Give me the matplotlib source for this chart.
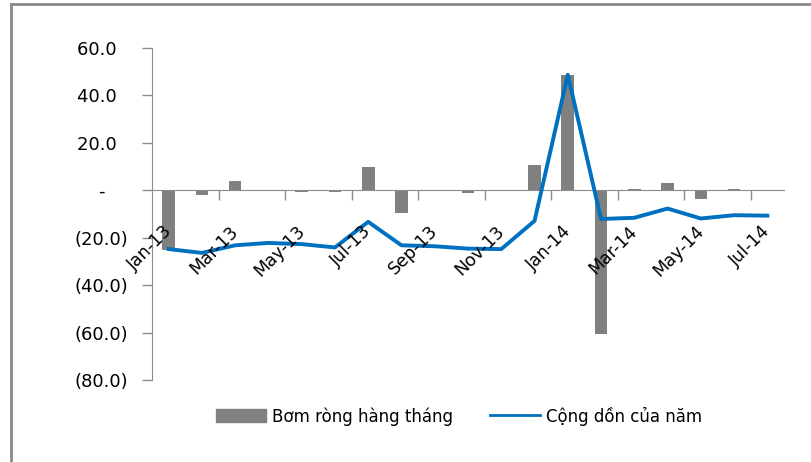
import matplotlib.pyplot as plt
from matplotlib.lines import Line2D
from matplotlib.patches import Patch
from matplotlib.transforms import ScaledTranslation

months = ["Jan-13", "Feb-13", "Mar-13", "Apr-13", "May-13", "Jun-13", "Jul-13",
          "Aug-13", "Sep-13", "Oct-13", "Nov-13", "Dec-13", "Jan-14", "Feb-14",
          "Mar-14", "Apr-14", "May-14", "Jun-14", "Jul-14"]
monthly = [-25.0, -1.8, 3.8, 0.3, -0.6, -0.8, 9.8, -9.5, -0.5, -1.0, -0.4,
           10.8, 48.5, -60.5, 0.6, 3.2, -3.5, 0.6, -0.5]
cumulative = [-24.8, -26.4, -23.2, -22.2, -22.7, -24.1, -13.3, -23.2, -23.6,
              -24.6, -24.8, -12.9, 48.7, -12.1, -11.6, -7.7, -11.9, -10.5, -10.7]
y_ticks = [-80, -60, -40, -20, 0, 20, 40, 60]

bar_color = "#808080"
line_color = "#0070C0"
axis_color = "#8c8c8c"

fig = plt.figure(figsize=(8.11, 4.62), dpi=100)
ax = fig.add_axes([152 / 811, 1 - 380 / 462, 632 / 811, 332 / 462])

x = list(range(len(months)))
ax.bar(x, monthly, width=0.38, color=bar_color, zorder=2)
ax.plot(x, cumulative, color=line_color, lw=2.8, zorder=3, solid_joinstyle="round")

ax.set_xlim(-0.5, len(months) - 0.5)
ax.set_ylim(-80, 60)


def fmt(v):
    if v > 0:
        return f"{v:.1f}\u2007"
    if v < 0:
        return f"({-v:.1f})"
    return "-\u2007\u2007"


ax.set_yticks(y_ticks)
ax.set_yticklabels([fmt(v) for v in y_ticks])
ax.tick_params(axis="y", direction="out", length=7, width=1, color=axis_color,
               pad=10, labelsize=13)

ax.set_xticks(x[::2])
ax.set_xticklabels(months[::2])
ax.set_xticks([i + 0.5 for i in range(1, len(months) - 1, 2)], minor=True)
ax.tick_params(axis="x", which="major", length=0, pad=23, labelsize=12.5,
               labelrotation=45)
ax.tick_params(axis="x", which="minor", length=7, width=1, color=axis_color,
               direction="out")

ax.spines["bottom"].set_position(("data", 0))
ax.spines["bottom"].set_color(axis_color)
ax.spines["left"].set_color(axis_color)
ax.spines["top"].set_visible(False)
ax.spines["right"].set_visible(False)

# month labels sit on top of the bars and the line
ax.xaxis.set_zorder(4)
nudge = ScaledTranslation(-0.06, 0, fig.dpi_scale_trans)
for lbl in ax.get_xticklabels():
    lbl.set_horizontalalignment("right")
    lbl.set_verticalalignment("top")
    lbl.set_rotation_mode("anchor")
    lbl.set_transform(lbl.get_transform() + nudge)

handles = [Patch(color=bar_color), Line2D([], [], color=line_color, lw=2)]
fig.legend(handles, ["Bơm ròng hàng tháng", "Cộng dồn của năm"],
           loc="center", bbox_to_anchor=(459 / 811, 1 - 416 / 462), ncol=2,
           frameon=False, fontsize=12, handlelength=3.0, handleheight=0.8,
           handletextpad=0.35, columnspacing=2.2)

# outer border of the chart area
fig.add_artist(Line2D([11 / 811, 11 / 811], [0, 1 - 4 / 462], color="#8a8a8a", lw=2))
fig.add_artist(Line2D([11 / 811, 1], [1 - 4 / 462, 1 - 4 / 462], color="#8a8a8a", lw=2))

fig.savefig("out.png", dpi=100)
